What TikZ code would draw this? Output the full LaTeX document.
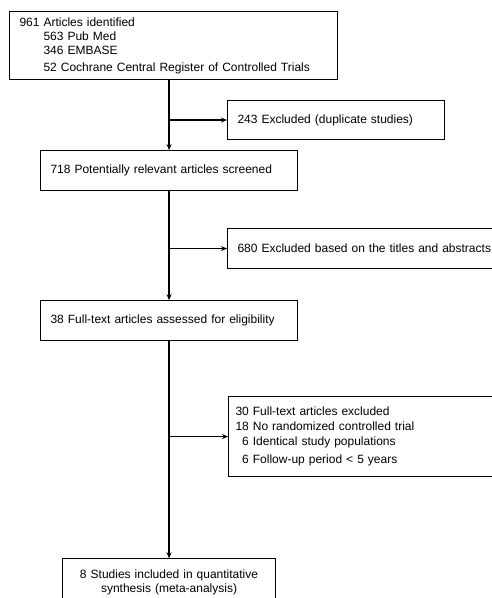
\documentclass[tikz,border=0pt]{standalone}
\usepackage{fontspec}
\setmainfont{Liberation Sans}
\usetikzlibrary{positioning,arrows.meta}

\begin{document}
\begin{tikzpicture}[x=1pt, y=-1pt,
  box/.style={draw, line width=1.1pt, minimum height=40pt, inner xsep=10pt, inner ysep=2pt,
              align=left, font=\fontsize{12}{14}\selectfont},
  arr/.style={-{Stealth[length=6pt,width=5pt]}, line width=1.6pt},
  side/.style={arr, line width=1.2pt}
]
  \useasboundingbox (0,0) rectangle (492,598);
  % main column
  \node[box, anchor=north west, text width=308pt, minimum height=68pt] (ident) at (9,11)
    {961 Articles identified\\
     \hspace*{24pt}563 Pub Med\\
     \hspace*{24pt}346 EMBASE\\[3pt]
     \hspace*{24pt}52 Cochrane Central Register of Controlled Trials};
  \node[box, text width=237pt, below right=70pt and 31pt of ident.south west] (screen)
    {718 Potentially relevant articles screened};
  \node[box, text width=237pt, below=109pt of screen] (elig)
    {38 Full-text articles assessed for eligibility};
  \node[box, text width=193pt, minimum height=48pt, align=center, below=217pt of elig] (incl)
    {8 Studies included in quantitative\\synthesis (meta-analysis)};
  % exclusions
  \node[box, anchor=north west, text width=197pt, minimum height=39pt] (dup) at (227,100)
    {243 Excluded (duplicate studies)};
  \node[box, anchor=north west, text width=300pt] (title) at (227,228)
    {680 Excluded based on the titles and abstracts};
  \node[box, anchor=north west, text width=300pt, inner xsep=7pt, minimum height=80pt] (full) at (228,396)
    {30 Full-text articles excluded\\[1pt]
     18 No randomized controlled trial\\[1pt]
     \phantom{1}6 Identical study populations\\[4pt]
     \phantom{1}6 Follow-up period < 5 years};
  \draw[arr] (screen |- ident.south) -- (screen);
  \draw[arr] (screen) -- (elig);
  \draw[arr] (elig) -- (incl);
  \draw[side] (screen |- dup.west) -- (dup.west);
  \draw[side] (screen |- title.west) -- (title.west);
  \draw[side] (screen |- full.west) -- (full.west);
\end{tikzpicture}
\end{document}
